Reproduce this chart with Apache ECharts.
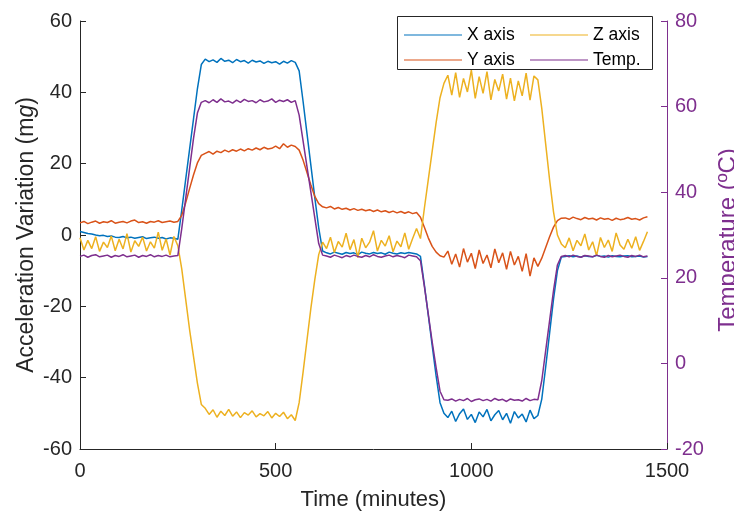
<!DOCTYPE html>
<html>
<head>
<meta charset="utf-8">
<script src="https://cdn.jsdelivr.net/npm/echarts@6/dist/echarts.min.js"></script>
<style>
  html, body { margin: 0; padding: 0; background: #fff; }
  #chart { width: 734px; height: 511px; }
</style>
</head>
<body>
<div id="chart"></div>
<script>
// time stamps (minutes)
const minutes = [
  0, 10, 20, 30, 40, 50, 60, 70, 80, 90,
  100, 110, 120, 130, 140, 150, 160, 170, 180, 190,
  200, 210, 220, 230, 240, 250, 260, 270, 280, 290,
  300, 310, 320, 330, 340, 350, 360, 370, 380, 390,
  400, 410, 420, 430, 440, 450, 460, 470, 480, 490,
  500, 510, 520, 530, 540, 550, 560, 570, 580, 590,
  600, 610, 620, 630, 640, 650, 660, 670, 680, 690,
  700, 710, 720, 730, 740, 750, 760, 770, 780, 790,
  800, 810, 820, 830, 840, 850, 860, 870, 880, 890,
  900, 910, 920, 930, 940, 950, 960, 970, 980, 990,
  1000, 1010, 1020, 1030, 1040, 1050, 1060, 1070, 1080, 1090,
  1100, 1110, 1120, 1130, 1140, 1150, 1160, 1170, 1180, 1190,
  1200, 1210, 1220, 1230, 1240, 1250, 1260, 1270, 1280, 1290,
  1300, 1310, 1320, 1330, 1340, 1350, 1360, 1370, 1380, 1390,
  1400, 1410, 1420, 1430, 1440, 1450
]

// acceleration variation (mg)
const xAxisAcc = [
  1.0, 0.7, 0.4, 0.3, 0.0, -0.2, -0.1, -0.4, -0.3, -0.6, -0.7, -0.4, -0.8, -0.6, -0.9, -0.7, -0.5, -1.0, -0.8, -0.6, -0.9, -0.7, -1.1, -0.8, -0.9, -1.2,
  7.0, 15.5, 24.0, 32.5, 41.0, 47.8,
  49.3, 48.6, 49.1, 48.4, 49.5, 48.7, 49.0, 48.3, 49.2, 48.6, 48.9, 48.2, 49.0, 48.5, 48.8, 48.1, 48.7, 48.3, 48.6, 47.9, 48.7, 48.2, 48.9, 48.4,
  46.0, 37.5, 28.5, 19.5, 10.5, 2.0, -4.5,
  -5.0, -5.3, -4.8, -5.1, -5.4, -4.9, -5.2, -5.0, -5.5, -4.8, -5.1, -5.3, -4.9, -5.2, -5.0, -5.4, -4.8, -5.1, -5.3, -5.0, -5.2, -4.9, -5.1, -5.3,
  -6.0, -14.0, -22.5, -31.0, -39.5, -47.0, -50.0,
  -51.2, -49.4, -52.3, -50.1, -48.8, -51.7, -50.3, -52.6, -49.6, -51.0, -48.9, -52.1, -50.4, -49.2, -51.8, -50.0, -52.8, -49.5, -51.3, -50.2, -52.4, -49.1, -51.5,
  -50.6, -46.0, -37.0, -27.5, -18.0, -10.0, -6.2,
  -6.0, -5.8, -6.1, -5.9, -6.2, -5.8, -6.0, -6.1, -5.7, -6.0, -5.9, -6.2, -5.8, -6.0, -6.1, -5.9, -5.8, -6.1, -6.0, -5.9, -6.2, -6.0
]

const yAxisAcc = [
  3.4, 3.8, 3.2, 3.6, 3.9, 3.3, 3.7, 3.5, 4.0, 3.3, 3.6, 3.8, 3.4, 3.9, 4.2, 3.5, 3.7, 3.3, 3.8, 3.6, 4.0, 3.5, 3.7, 3.9, 3.6, 3.8,
  5.5, 9.0, 13.0, 16.8, 20.2, 22.3,
  22.9, 23.4, 22.7, 23.5, 23.1, 23.8, 23.3, 23.9, 23.5, 24.1, 23.6, 24.2, 23.8, 24.4, 23.9, 24.6, 24.1, 24.3, 24.9, 24.2, 25.6, 24.6, 25.2, 24.8,
  23.8, 21.0, 17.5, 14.0, 10.8, 8.8, 7.9,
  7.6, 8.0, 7.3, 7.7, 7.2, 7.5, 7.0, 7.4, 6.9, 7.2, 6.8, 7.1, 6.6, 7.0, 6.5, 6.8, 6.3, 6.7, 6.2, 6.6, 6.1, 6.5, 6.0, 6.3,
  5.0, 2.2, -0.8, -3.2, -4.8, -5.8, -6.2,
  -4.5, -8.2, -5.3, -9.0, -3.8, -7.6, -5.1, -9.4, -4.2, -8.0, -5.6, -9.2, -3.9, -7.8, -5.0, -9.6, -4.6, -8.4, -6.0, -10.2, -5.2, -11.5, -6.4,
  -8.8, -6.5, -3.5, -0.5, 2.2, 4.0, 4.7,
  4.8, 4.4, 5.0, 4.6, 4.3, 4.9, 4.5, 4.7, 4.2, 4.8, 4.4, 4.6, 4.1, 4.7, 4.3, 4.5, 4.9, 4.4, 4.6, 4.2, 4.8, 5.1
]

const zAxisAcc = [
  -0.8, -4.2, -1.5, -3.8, -0.5, -4.6, -2.0, -3.5, -0.3, -4.4, -1.2, -3.9, 0.4, -4.8, -1.6, -3.2, -0.6, -4.5, -1.9, -3.7, 0.8, -4.3, -1.1, -5.6, -0.4, -3.0,
  -9.5, -18.0, -26.5, -34.0, -41.5, -47.5,
  -48.6, -50.3, -49.0, -51.1, -49.4, -50.6, -48.9, -50.8, -49.6, -51.2, -49.8, -50.5, -49.3, -51.0, -50.1, -50.7, -49.5, -51.3, -50.0, -50.9, -49.7, -51.5, -50.4, -52.0,
  -47.0, -38.5, -29.5, -20.5, -12.5, -5.5, -2.0,
  -3.8, -0.6, -4.9, -1.8, -3.4, 0.5, -4.1, -1.3, -6.3, -0.9, -3.6, -2.0, 1.2, -4.5, -1.5, -3.1, -0.2, -4.7, -1.7, -3.3, 0.6, -4.0, -1.0, 1.8,
  -1.0, 7.5, 15.5, 23.5, 31.5, 38.5, 42.5,
  44.8, 39.2, 45.5, 38.6, 43.9, 40.1, 46.2, 38.3, 44.4, 39.7, 45.8, 37.9, 43.6, 40.4, 45.1, 38.1, 44.0, 37.6, 43.2, 39.0, 45.4, 37.8, 44.6,
  43.5, 35.5, 25.5, 15.5, 6.5, 0.0, -2.5,
  -3.6, -0.8, -4.4, -1.5, -3.0, 0.3, -4.2, -1.9, -5.8, -0.7, -3.5, -1.4, -4.6, 0.6, -2.8, -4.0, -1.2, -3.7, -0.5, -4.3, -1.8, 0.9
]

// temperature (ºC), right axis
const temperature = [
  25.0, 25.3, 24.8, 25.2, 25.4, 24.9, 25.1, 25.3, 24.8, 25.2, 25.0, 25.4, 24.9, 25.1, 25.3, 24.8, 25.2, 25.0, 25.4, 24.9, 25.2, 25.0, 25.3, 24.9, 25.1, 25.2,
  31.5, 38.5, 45.5, 52.5, 58.5, 61.0,
  61.4, 60.9, 61.6, 61.0, 61.8, 61.1, 61.3, 60.8, 61.5, 61.0, 61.7, 61.2, 61.4, 60.9, 61.6, 61.1, 61.3, 61.8, 61.0, 61.5, 61.2, 61.6, 61.0, 61.4,
  58.0, 52.0, 46.0, 40.0, 34.0, 28.0, 25.3,
  25.1, 24.8, 25.3, 25.0, 24.7, 25.2, 24.9, 25.3, 25.0, 24.8, 25.2, 24.9, 25.4, 25.0, 24.8, 25.1, 25.3, 24.9, 25.2, 25.0, 24.7, 25.3, 25.1, 24.9,
  24.0, 18.0, 11.5, 5.0, -1.0, -6.5, -8.5,
  -8.6, -8.3, -8.8, -8.4, -8.7, -8.2, -8.9, -8.5, -8.3, -8.7, -8.4, -8.8, -8.2, -8.6, -8.4, -8.9, -8.3, -8.6, -8.5, -8.8, -8.2, -8.7, -8.4,
  -8.5, -4.0, 3.0, 10.0, 17.0, 23.0, 25.0,
  25.2, 24.9, 25.3, 25.0, 24.8, 25.2, 25.1, 24.9, 25.3, 25.0, 24.8, 25.2, 24.9, 25.1, 25.3, 25.0, 24.8, 25.2, 25.0, 25.3, 24.9, 25.1
]

const seriesNames = ['X axis', 'Y axis', 'Z axis', 'Temp.']
const seriesColors = ['#0072BD', '#D95319', '#EDB120', '#7E2F8E']

const FONT = 'Liberation Sans, Arial, Helvetica, sans-serif'
const AXIS_GRAY = '#262626'
const PURPLE = '#7E2F8E'

const pairs = vals => minutes.map((t, i) => [t, vals[i]])

const chart = echarts.init(document.getElementById('chart'), null, { renderer: 'canvas' })

const makeLine = (idx, vals, yIndex) => ({
  name: seriesNames[idx],
  type: 'line',
  yAxisIndex: yIndex,
  data: pairs(vals),
  showSymbol: false,
  symbol: 'none',
  sampling: 'none',
  lineStyle: { color: seriesColors[idx], width: 1.5 },
  itemStyle: { color: seriesColors[idx] },
  emphasis: { disabled: true }
})

// two legend columns inside one framed box (MATLAB NumColumns = 2 look)
const legendCol = (names, left) => ({
  data: names,
  left: left,
  top: 26,
  orient: 'vertical',
  padding: 0,
  itemGap: 7,
  itemWidth: 58,
  itemHeight: 1,
  icon: 'rect',
  z: 6,
  textStyle: { fontFamily: FONT, fontSize: 17.5, color: '#000' }
})

const option = {
  animation: false,
  backgroundColor: '#fff',
  textStyle: { fontFamily: FONT },
  grid: { left: 80, right: 67, top: 21, bottom: 62, containLabel: false, outerBoundsMode: 'none' },
  graphic: [{
    type: 'rect',
    left: 397,
    top: 16,
    z: 5,
    shape: { width: 255, height: 53 },
    style: { fill: '#fff', stroke: AXIS_GRAY, lineWidth: 1 }
  }],
  legend: [
    legendCol(['X axis', 'Y axis'], 404),
    legendCol(['Z axis', 'Temp.'], 530)
  ],
  xAxis: {
    type: 'value',
    min: 0,
    max: 1500,
    interval: 500,
    name: 'Time (minutes)',
    nameLocation: 'middle',
    nameGap: 40,
    nameMoveOverlap: false,
    nameTextStyle: { fontFamily: FONT, fontSize: 22, color: AXIS_GRAY },
    axisLine: { show: true, onZero: false, lineStyle: { color: AXIS_GRAY, width: 1 } },
    axisTick: { show: true, inside: true, length: 6, lineStyle: { color: AXIS_GRAY } },
    axisLabel: { fontFamily: FONT, fontSize: 20, color: AXIS_GRAY, margin: 12, formatter: v => String(v) },
    splitLine: { show: false }
  },
  yAxis: [
    {
      type: 'value',
      min: -60,
      max: 60,
      interval: 20,
      position: 'left',
      name: 'Acceleration Variation (m{i|g})',
      nameLocation: 'middle',
      nameGap: 42,
      nameMoveOverlap: false,
      nameTextStyle: {
        fontFamily: FONT, fontSize: 23, color: AXIS_GRAY,
        rich: { i: { fontFamily: FONT, fontSize: 23, fontStyle: 'italic', color: AXIS_GRAY } }
      },
      axisLine: { show: true, onZero: false, lineStyle: { color: AXIS_GRAY, width: 1 } },
      axisTick: { show: true, inside: true, length: 6, lineStyle: { color: AXIS_GRAY } },
      axisLabel: { fontFamily: FONT, fontSize: 20, color: AXIS_GRAY, margin: 8 },
      splitLine: { show: false }
    },
    {
      type: 'value',
      min: -20,
      max: 80,
      interval: 20,
      position: 'right',
      name: 'Temperature (ºC)',
      nameLocation: 'middle',
      nameGap: 49,
      nameTextStyle: { fontFamily: FONT, fontSize: 24, color: PURPLE, padding: [0, 10, 0, 0] },
      axisLine: { show: true, onZero: false, lineStyle: { color: PURPLE, width: 1 } },
      axisTick: { show: true, inside: true, length: 6, lineStyle: { color: PURPLE } },
      axisLabel: { fontFamily: FONT, fontSize: 20, color: PURPLE, margin: 8 },
      splitLine: { show: false }
    }
  ],
  series: [
    makeLine(0, xAxisAcc, 0),
    makeLine(1, yAxisAcc, 0),
    makeLine(2, zAxisAcc, 0),
    makeLine(3, temperature, 1)
  ]
}

chart.setOption(option)
</script>
</body>
</html>
